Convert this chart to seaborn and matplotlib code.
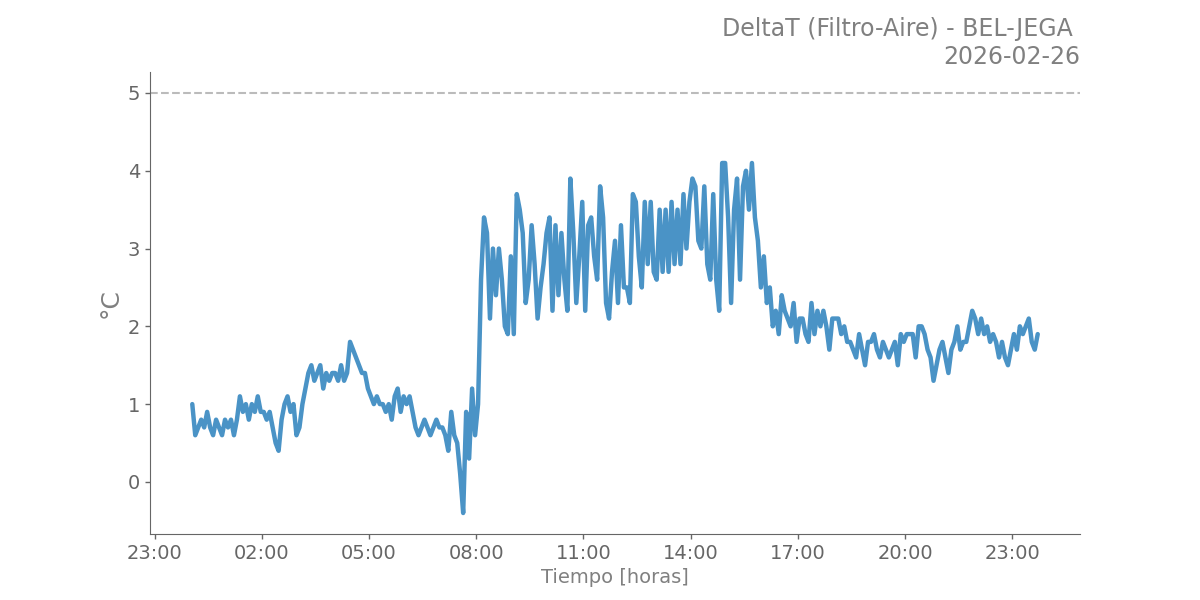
import seaborn as sns
import matplotlib
matplotlib.use("Agg")
import matplotlib.pyplot as plt
import matplotlib.dates as mdates
import pandas as pd

# DeltaT readings every 5 minutes, one list per hour (starts 00:03)
h00 = [1.0, 0.6, 0.7, 0.8, 0.7, 0.9, 0.7, 0.6, 0.8, 0.7, 0.6, 0.8]
h01 = [0.7, 0.8, 0.6, 0.8, 1.1, 0.9, 1.0, 0.8, 1.0, 0.9, 1.1, 0.9]
h02 = [0.9, 0.8, 0.9, 0.7, 0.5, 0.4, 0.8, 1.0, 1.1, 0.9, 1.0, 0.6]
h03 = [0.7, 1.0, 1.2, 1.4, 1.5, 1.3, 1.4, 1.5, 1.2, 1.4, 1.3, 1.4]
h04 = [1.4, 1.3, 1.5, 1.3, 1.4, 1.8, 1.7, 1.6, 1.5, 1.4, 1.4, 1.2]
h05 = [1.1, 1.0, 1.1, 1.0, 1.0, 0.9, 1.0, 0.8, 1.1, 1.2, 0.9, 1.1]
h06 = [1.0, 1.1, 0.9, 0.7, 0.6, 0.7, 0.8, 0.7, 0.6, 0.7, 0.8, 0.7]
h07 = [0.7, 0.6, 0.4, 0.9, 0.6, 0.5, 0.1, -0.4, 0.9, 0.3, 1.2, 0.6]
h08 = [1.0, 2.6, 3.4, 3.2, 2.1, 3.0, 2.4, 3.0, 2.6, 2.0, 1.9, 2.9]
h09 = [1.9, 3.7, 3.5, 3.2, 2.3, 2.6, 3.3, 2.8, 2.1, 2.5, 2.8, 3.2]
h10 = [3.4, 2.2, 3.3, 2.4, 3.2, 2.6, 2.2, 3.9, 3.2, 2.3, 2.9, 3.6]
h11 = [2.2, 3.3, 3.4, 2.9, 2.6, 3.8, 3.4, 2.3, 2.1, 2.7, 3.1, 2.3]
h12 = [3.3, 2.5, 2.5, 2.3, 3.7, 3.6, 2.9, 2.5, 3.6, 2.8, 3.6, 2.7]
h13 = [2.6, 3.5, 2.7, 3.5, 2.7, 3.6, 2.8, 3.5, 2.8, 3.7, 3.0, 3.6]
h14 = [3.9, 3.8, 3.1, 3.0, 3.8, 2.8, 2.6, 3.7, 2.6, 2.2, 4.1, 4.1]
h15 = [3.4, 2.3, 3.5, 3.9, 2.6, 3.8, 4.0, 3.5, 4.1, 3.4, 3.1, 2.5]
h16 = [2.9, 2.3, 2.5, 2.0, 2.2, 1.9, 2.4, 2.2, 2.1, 2.0, 2.3, 1.8]
h17 = [2.1, 2.1, 1.9, 1.8, 2.3, 1.9, 2.2, 2.0, 2.2, 2.0, 1.7, 2.1]
h18 = [2.1, 2.1, 1.9, 2.0, 1.8, 1.8, 1.7, 1.6, 1.9, 1.7, 1.5, 1.8]
h19 = [1.8, 1.9, 1.7, 1.6, 1.8, 1.7, 1.6, 1.7, 1.8, 1.5, 1.9, 1.8]
h20 = [1.9, 1.9, 1.9, 1.6, 2.0, 2.0, 1.9, 1.7, 1.6, 1.3, 1.5, 1.7]
h21 = [1.8, 1.6, 1.4, 1.7, 1.8, 2.0, 1.7, 1.8, 1.8, 2.0, 2.2, 2.1]
h22 = [1.9, 2.1, 1.9, 2.0, 1.8, 1.9, 1.8, 1.6, 1.8, 1.6, 1.5, 1.7]
h23 = [1.9, 1.7, 2.0, 1.9, 2.0, 2.1, 1.8, 1.7, 1.9]

delta_t = (h00 + h01 + h02 + h03 + h04 + h05 + h06 + h07 + h08 + h09 + h10 + h11
           + h12 + h13 + h14 + h15 + h16 + h17 + h18 + h19 + h20 + h21 + h22 + h23)
start = "2026-02-26 00:03"
limite = 5
titulo = "DeltaT (Filtro-Aire) - BEL-JEGA \n2026-02-26"

df = pd.DataFrame({
    "tiempo": pd.date_range(start, periods=len(delta_t), freq="5min"),
    "dt": delta_t,
})

sns.set_style("ticks")
plt.rcParams["font.family"] = ["DejaVu Sans"]

gris = "#666666"
fig, ax = plt.subplots(figsize=(12, 6), dpi=100)
sns.lineplot(data=df, x="tiempo", y="dt", ax=ax, color="#4A93C6", lw=3.2,
             solid_joinstyle="round")
ax.axhline(limite, color="#BBBBBB", ls="--", lw=1.5)

ax.xaxis.set_major_locator(mdates.HourLocator(byhour=[23, 2, 5, 8, 11, 14, 17, 20]))
ax.xaxis.set_major_formatter(mdates.DateFormatter("%H:%M"))

ax.set_xlabel("Tiempo [horas]", fontsize=14, color="gray")
ax.set_ylabel("°C", fontsize=18, color="gray")
ax.set_title(titulo, loc="right", fontsize=17, color="gray")
ax.tick_params(colors=gris, labelsize=14, length=3.5, width=1)
for s in ["left", "bottom"]:
    ax.spines[s].set_color(gris)
sns.despine(ax=ax)

fig.savefig("out.png", dpi=100)
